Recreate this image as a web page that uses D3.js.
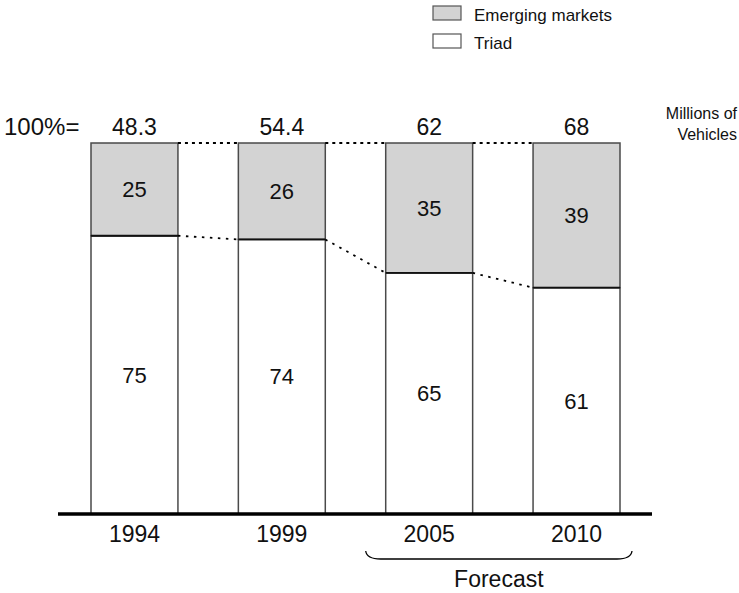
<!DOCTYPE html>
<html>
<head>
<meta charset="utf-8">
<script src="https://cdn.jsdelivr.net/npm/d3@7"></script>
<style>
  body { margin: 0; background: #fff; }
  svg { display: block; font-family: Arial, "Liberation Sans", sans-serif; }
</style>
</head>
<body>
<svg id="chart" width="739" height="593"></svg>
<script>
const years = ["1994", "1999", "2005", "2010"];
const totals = ["48.3", "54.4", "62", "68"];
const emerging = [25, 26, 35, 39];
const triad = [75, 74, 65, 61];
const seriesNames = ["Emerging markets", "Triad"];
const forecastYears = ["2005", "2010"];

const svg = d3.select("#chart");
const x = d3.scaleBand().domain(years).range([91, 620]).paddingInner(0.41).paddingOuter(0);
const y = d3.scaleLinear().domain([0, 100]).range([514, 143]);
const bw = x.bandwidth();

const data = years.map((yr, i) => ({ yr, total: totals[i], em: emerging[i], tr: triad[i] }));

// Triad (bottom, white)
svg.selectAll(".triad").data(data).join("rect")
  .attr("x", d => x(d.yr)).attr("width", bw)
  .attr("y", d => y(d.tr)).attr("height", d => y(0) - y(d.tr))
  .attr("fill", "#fff").attr("stroke", "#4a4a4a").attr("stroke-width", 1.5);

// Emerging (top, gray)
svg.selectAll(".em").data(data).join("rect")
  .attr("x", d => x(d.yr)).attr("width", bw)
  .attr("y", y(100)).attr("height", d => y(d.tr) - y(100))
  .attr("fill", "#d3d3d3").attr("stroke", "#4a4a4a").attr("stroke-width", 1.5);

// divider lines
svg.selectAll(".div").data(data).join("line")
  .attr("x1", d => x(d.yr)).attr("x2", d => x(d.yr) + bw)
  .attr("y1", d => y(d.tr)).attr("y2", d => y(d.tr))
  .attr("stroke", "#111").attr("stroke-width", 1.8);

// dotted connectors
const pairs = d3.pairs(data);
svg.selectAll(".dtop").data(pairs).join("line")
  .attr("x1", p => x(p[0].yr) + bw).attr("x2", p => x(p[1].yr))
  .attr("y1", y(100)).attr("y2", y(100))
  .attr("stroke", "#000").attr("stroke-width", 2).attr("stroke-dasharray", "3,4");
svg.selectAll(".dmid").data(pairs).join("line")
  .attr("x1", p => x(p[0].yr) + bw).attr("x2", p => x(p[1].yr))
  .attr("y1", p => y(p[0].tr)).attr("y2", p => y(p[1].tr))
  .attr("stroke", "#000").attr("stroke-width", 1.8).attr("stroke-dasharray", "2.5,5.5");

// value labels
svg.selectAll(".lem").data(data).join("text")
  .attr("x", d => x(d.yr) + bw / 2).attr("y", d => (y(100) + y(d.tr)) / 2)
  .attr("dy", "0.35em").attr("text-anchor", "middle").attr("font-size", 22)
  .attr("fill", "#111").text(d => d.em);
svg.selectAll(".ltr").data(data).join("text")
  .attr("x", d => x(d.yr) + bw / 2).attr("y", d => (y(d.tr) + y(0)) / 2)
  .attr("dy", "0.35em").attr("text-anchor", "middle").attr("font-size", 22)
  .attr("fill", "#111").text(d => d.tr);

// totals
svg.selectAll(".tot").data(data).join("text")
  .attr("x", d => x(d.yr) + bw / 2).attr("y", 135)
  .attr("text-anchor", "middle").attr("font-size", 23)
  .attr("fill", "#111").text(d => d.total);
svg.append("text").attr("x", 4).attr("y", 135).attr("font-size", 24).attr("fill", "#111").text("100%=");

svg.append("text").attr("x", 737).attr("y", 119).attr("text-anchor", "end").attr("font-size", 16).attr("fill", "#111").text("Millions of");
svg.append("text").attr("x", 737).attr("y", 140).attr("text-anchor", "end").attr("font-size", 16).attr("fill", "#111").text("Vehicles");

// baseline
svg.append("line").attr("x1", 58).attr("x2", 652).attr("y1", y(0)).attr("y2", y(0))
  .attr("stroke", "#000").attr("stroke-width", 3.5);

// year axis labels
svg.selectAll(".yr").data(years).join("text")
  .attr("x", d => x(d) + bw / 2).attr("y", 542)
  .attr("text-anchor", "middle").attr("font-size", 23)
  .attr("fill", "#111").text(d => d);

// brace
const bx0 = x(forecastYears[0]) - 20, bx1 = x(forecastYears[1]) + bw + 12;
const by0 = 551, by1 = 559;
svg.append("path")
  .attr("d", `M${bx0},${by0} Q${bx0 + 1},${by1} ${bx0 + 15},${by1} L${bx1 - 15},${by1} Q${bx1 - 1},${by1} ${bx1},${by0}`)
  .attr("fill", "none").attr("stroke", "#000").attr("stroke-width", 1.3);
svg.append("text").attr("x", (bx0 + bx1) / 2).attr("y", 587)
  .attr("text-anchor", "middle").attr("font-size", 23).attr("fill", "#111").text("Forecast");

// legend
const legFill = ["#d3d3d3", "#fff"];
const leg = svg.selectAll(".leg").data(seriesNames).join("g")
  .attr("transform", (d, i) => `translate(433, ${6 + i * 28})`);
leg.append("rect").attr("width", 28).attr("height", 14)
  .attr("fill", (d, i) => legFill[i]).attr("stroke", "#555").attr("stroke-width", 1.2);
leg.append("text").attr("x", 41).attr("y", 9).attr("dy", "0.35em").attr("font-size", 17)
  .attr("fill", "#111").text(d => d);
</script>
</body>
</html>
